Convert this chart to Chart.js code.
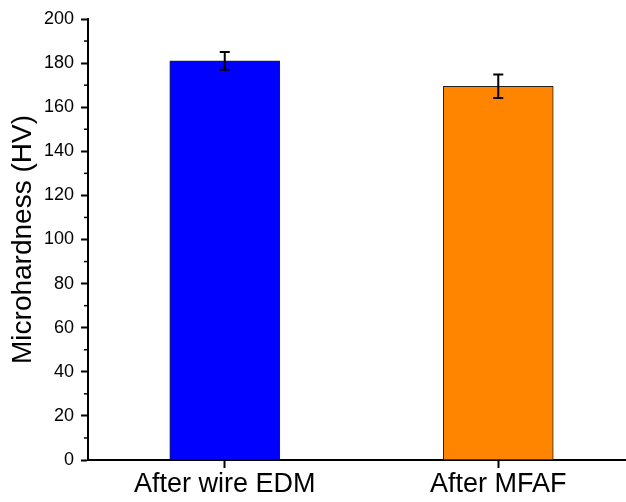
<!DOCTYPE html>
<html>
<head>
<meta charset="utf-8">
<script src="https://cdn.jsdelivr.net/npm/chart.js@4/dist/chart.umd.min.js"></script>
<style>
  body { margin: 0; background: #fff; }
  #wrap { width: 626px; height: 502px; }
</style>
</head>
<body>
<div id="wrap"><canvas id="myChart"></canvas></div>
<script>
var categories = ['After wire EDM', 'After MFAF'];
var hardness = [181, 169.5];
var hardnessErr = [4, 5.3];
var barColors = ['#0000FF', '#FF8500'];
var yTicks = [0, 20, 40, 60, 80, 100, 120, 140, 160, 180, 200];

var points = categories.map(function (c, i) { return { x: i + 1, y: hardness[i] }; });

// error bars + minor ticks drawn through the scales
var extras = {
  id: 'extras',
  afterDatasetsDraw: function (chart) {
    var c = chart.ctx, xs = chart.scales.x, ys = chart.scales.y;
    c.save();
    c.strokeStyle = '#000';
    c.lineWidth = 2;
    hardness.forEach(function (v, i) {
      var px = xs.getPixelForValue(i + 1);
      var top = ys.getPixelForValue(v + hardnessErr[i]);
      var bot = ys.getPixelForValue(v - hardnessErr[i]);
      c.beginPath();
      c.moveTo(px, top); c.lineTo(px, bot);
      c.moveTo(px - 5, top); c.lineTo(px + 5, top);
      c.moveTo(px - 5, bot); c.lineTo(px + 5, bot);
      c.stroke();
    });
    c.lineWidth = 1.5;
    for (var v = 10; v < 200; v += 20) {
      var py = ys.getPixelForValue(v);
      c.beginPath();
      c.moveTo(ys.right - 4, py); c.lineTo(ys.right, py);
      c.stroke();
    }
    c.restore();
  }
};

var ctx = document.getElementById('myChart').getContext('2d');
var myChart = new Chart(ctx, {
  type: 'bar',
  data: {
    datasets: [{
      data: points,
      backgroundColor: barColors,
      borderColor: '#222',
      borderWidth: 1,
      barThickness: 110
    }]
  },
  plugins: [extras],
  options: {
    responsive: true,
    maintainAspectRatio: false,
    animation: false,
    layout: { padding: { top: 19, right: 0, left: 0, bottom: 0 } },
    plugins: { legend: { display: false }, tooltip: { enabled: false } },
    scales: {
      x: {
        type: 'linear',
        offset: false,
        min: 0.5,
        max: 2.467,
        afterBuildTicks: function (s) { s.ticks = [{ value: 1 }, { value: 2 }]; },
        afterFit: function (s) { s.height = 42; },
        ticks: {
          color: '#000',
          font: { family: 'Liberation Sans, Arial', size: 27 },
          padding: 0,
          maxRotation: 0,
          callback: function (v) { return categories[v - 1]; }
        },
        grid: { offset: false, drawOnChartArea: false, tickLength: 8, tickWidth: 2, tickColor: '#000' },
        border: { color: '#000', width: 2 }
      },
      y: {
        min: 0,
        max: 200,
        afterBuildTicks: function (s) { s.ticks = yTicks.map(function (v) { return { value: v }; }); },
        afterFit: function (s) { s.width = 88; },
        title: {
          display: true,
          text: 'Microhardness (HV)',
          color: '#000',
          font: { family: 'Liberation Sans, Arial', size: 28 },
          padding: { top: 6, bottom: 0 }
        },
        ticks: {
          color: '#000',
          font: { family: 'Liberation Sans, Arial', size: 18 },
          padding: 7
        },
        grid: { drawOnChartArea: false, tickLength: 7, tickWidth: 2, tickColor: '#000' },
        border: { color: '#000', width: 2 }
      }
    }
  }
});
</script>
</body>
</html>
